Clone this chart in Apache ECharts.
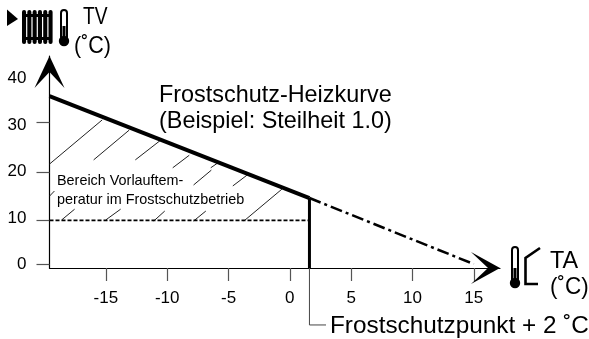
<!DOCTYPE html>
<html><head><meta charset="utf-8">
<style>html,body{margin:0;padding:0;background:#fff}#c{width:589px;height:339px}</style>
<script src="https://cdn.jsdelivr.net/npm/echarts@6/dist/echarts.min.js"></script>
</head><body><div id="c"></div>
<script>
const xTicks = [-15, -10, -5, 0, 5, 10, 15];
const yLabels = [0, 10, 20, 30, 40];
const yTickValues = [0, 9.5, 19.9, 30.5];
const heatingCurve = [[-19.6, 36.2], [1.6, 14.3]];
const extrapolation = [[1.6, 14.3], [15, 0.1]];
const minFlow = [[-19.6, 9.5], [1.6, 9.5]];
const frostPoint = [[1.6, 14.3], [1.6, -0.75]];
const leader = [[1.6, -0.75], [1.6, -13], [2.95, -13]];
const hatches = [
  [[-19.6, 21.6], [-15.3, 31.1]],
  [[-16, 22.5], [-13.1, 28.9]],
  [[-12.6, 22.5], [-10.6, 26.6]],
  [[-9.55, 20.8], [-8.2, 23.5]],
  [[-6.45, 20.8], [-5.9, 21.8]],
  [[-19.6, 14.7], [-19.2, 15.8]],
  [[-7.85, 17.1], [-6.4, 20.3]],
  [[-4.65, 16.9], [-3.5, 19.2]],
  [[-3.75, 9.35], [-0.65, 16.2]],
  [[-18.6, 9.6], [-17.55, 11.9]],
  [[-15, 9.6], [-13.8, 11.9]],
  [[-11.1, 9.35], [-10.2, 11.5]],
  [[-7.85, 9.35], [-6.85, 11.5]]
];
const hatchData = hatches.flatMap(h => [h[0], h[1], [null, null]]);
const FONT = '"Liberation Sans", Arial, sans-serif';
const INK = '#000';
const arrowY = 'path://M15 0 L30 32 L15 16 L0 32 Z';
const arrowX = 'path://M16 0 L32 29 L16 12 L0 29 Z';
function ln(name, data, width, dash, color) {
  return {name, type: 'line', data, symbol: 'none', silent: true, clip: false, animation: false, connectNulls: false,
    lineStyle: {color: color || INK, width, type: dash || 'solid', cap: 'butt'}};
}
function txt(x, y, text, size, extra, sx) {
  return {type: 'text', x, y, scaleX: sx || 1, silent: true, style: Object.assign({text, fontSize: size, fontFamily: FONT, fill: INK, textVerticalAlign: 'middle'}, extra || {})};
}
function thermo(cx, top, bottom, stemW) {
  return [
    {type: 'rect', shape: {x: cx - stemW / 2, y: top, width: stemW, height: bottom - top, r: stemW / 2}, style: {fill: '#fff', stroke: INK, lineWidth: 2}},
    {type: 'rect', shape: {x: cx - 1.5, y: bottom - 14, width: 3, height: 14}, style: {fill: INK}},
    {type: 'circle', shape: {cx, cy: bottom + 1, r: 5.2}, style: {fill: INK}}
  ];
}
const ribs = [22, 27.3, 32.6, 37.9, 43.2, 48.5];
const chart = echarts.init(document.getElementById('c'), null, {renderer: 'canvas'});
chart.setOption({
  animation: false,
  backgroundColor: '#fff',
  grid: {left: 49.5, top: 56, width: 450.5, height: 212},
  xAxis: {
    type: 'value', min: -19.6, max: 17.14, splitLine: {show: false},
    axisLine: {onZero: false, lineStyle: {color: '#000', width: 1.2}, symbol: ['none', arrowX], symbolSize: [33, 29], symbolOffset: [0, -14.5]},
    axisTick: {show: true, length: 13, lineStyle: {color: '#555', width: 1.2}, customValues: xTicks},
    axisLabel: {customValues: xTicks, fontSize: 17, fontFamily: FONT, color: INK, margin: 22, showMinLabel: true, showMaxLabel: true}
  },
  yAxis: {
    type: 'value', min: -0.75, max: 44.84, splitLine: {show: false},
    axisLine: {onZero: false, lineStyle: {color: '#000', width: 1.2}, symbol: ['none', arrowY], symbolSize: [30, 32], symbolOffset: [0, -16]},
    axisTick: {show: true, length: 13, lineStyle: {color: '#555', width: 1.2}, customValues: yTickValues},
    axisLabel: {customValues: yLabels, fontSize: 17, fontFamily: FONT, color: INK, margin: 23}
  },
  series: [
    ln('hatch', hatchData, 1, 'solid', '#222'),
    ln('minFlow', minFlow, 1.8, [4, 2]),
    ln('leader', leader, 1, 'solid', '#444'),
    ln('extrapolation', extrapolation, 2.5, [12, 4, 3, 4]),
    ln('frostPoint', frostPoint, 3),
    ln('curve', heatingCurve, 4)
  ],
  graphic: {elements: [
    {type: 'polygon', shape: {points: [[7, 9.5], [18, 19], [7, 26]]}, style: {fill: INK}},
    ...ribs.map(x => ({type: 'rect', shape: {x, y: 10, width: 4.1, height: 34, r: 2}, style: {fill: INK}})),
    {type: 'rect', shape: {x: 23, y: 14, width: 29, height: 3}, style: {fill: INK}},
    {type: 'rect', shape: {x: 23, y: 37, width: 29, height: 3}, style: {fill: INK}},
    ...thermo(64, 10, 40, 6),
    ...thermo(515, 247, 282, 6),
    {type: 'polyline', shape: {points: [[540, 248], [525.5, 258], [525.5, 284], [538, 284]]}, style: {stroke: INK, fill: 'none', lineWidth: 2.6}},
    txt(83, 18, 'TV', 23.4, null, 0.82),
    txt(74, 47, '(˚C)', 23.4, null, 0.92),
    txt(550, 262, 'TA', 23.4),
    txt(550, 288, '(˚C)', 23.4, null, 0.96),
    txt(159, 96, 'Frostschutz-Heizkurve', 23.4),
    txt(159, 122, '(Beispiel: Steilheit 1.0)', 23.4),
    txt(57, 181, 'Bereich Vorlauftem-', 14.4),
    txt(57, 200, 'peratur im Frostschutzbetrieb', 14.4),
    txt(330, 327, 'Frostschutzpunkt + 2 ˚C', 23.4, null, 1.04)
  ]}
});
</script></body></html>
